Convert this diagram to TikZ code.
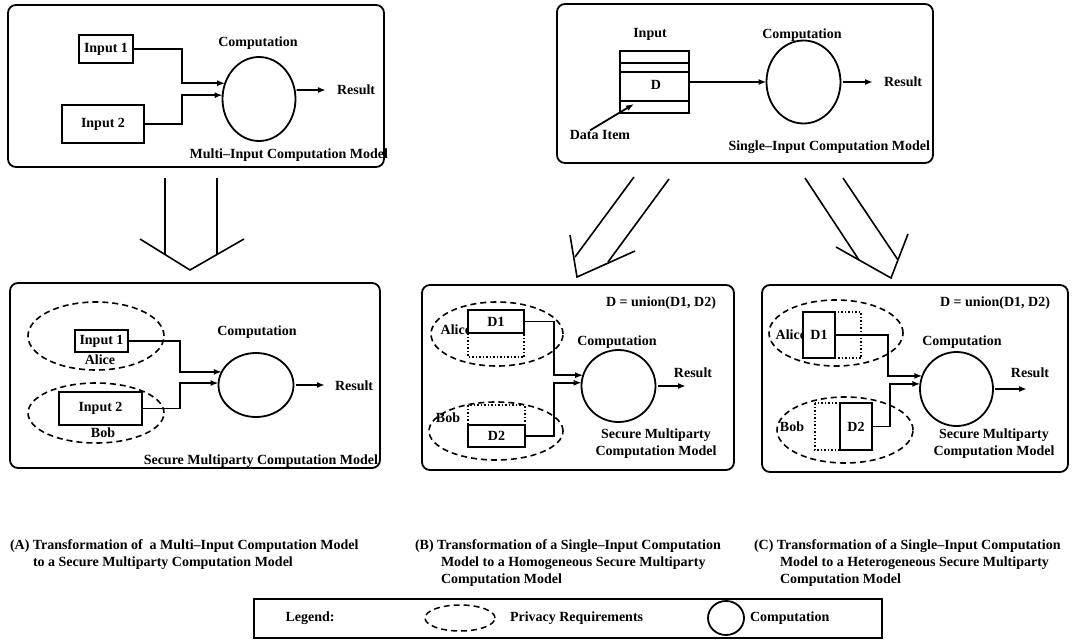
\documentclass[tikz,border=0pt]{standalone}
\usepackage{fontspec}
\setmainfont{Liberation Serif}
\usetikzlibrary{arrows.meta,shapes.geometric}
\begin{document}
\begin{tikzpicture}[x=1pt,y=-1pt,
  every node/.style={font=\bfseries\fontsize{14}{17}\selectfont, inner sep=0pt, outer sep=0pt},
  panel/.style={draw, line width=1.8pt, rounded corners=8pt},
  box/.style={draw, line width=1.8pt, rectangle, inner sep=0pt},
  comp/.style={draw, line width=1.8pt, ellipse, inner sep=0pt},
  priv/.style={draw, ellipse, line width=1.6pt, dash pattern=on 6pt off 4pt, inner sep=0pt},
  dots/.style={line width=1.5pt, dotted},
  conn/.style={line width=1.8pt, -{Latex[length=8pt,width=6pt]}},
  bigarrow/.style={line width=1.6pt}
]
\useasboundingbox (0,0) rectangle (1072,642);

% ---------- top A: multi-input ----------
\node[anchor=east] (titleA) at (388,155) {Multi–Input Computation Model};
\draw[panel] (8,5) rectangle (384,167);
\node[box, minimum width=54pt, minimum height=28pt] (in1A) at (106,49) {Input 1};
\node[box, minimum width=82pt, minimum height=38pt] (in2A) at (103,124) {Input 2};
\node[comp, minimum width=73pt, minimum height=84pt] (compA) at (259,99) {};
\node (compAl) at (258,43) {Computation};
\coordinate (resAe) at (326,90);
\node[anchor=west] (resA) at (337,90) {Result};
\draw[conn] (in1A.east) -- ++(49,0) |- (compA.155);
\draw[conn] (in2A.east) -- ++(38,0) |- (compA.174);
\draw[conn, shorten <=2pt] (compA.14) -- (resAe);

% ---------- top B: single-input ----------
\draw[panel] (557,4) rectangle (933,163);
\node[box, minimum width=69pt, minimum height=62pt] (stackB) at (654.5,82) {};
\draw[line width=1.8pt] (620,63) -- (689,63);
\draw[line width=1.8pt] (620,72) -- (689,72);
\draw[line width=1.8pt] (620,101) -- (689,101);
\node (dB) at (656,85) {D};
\node (inpB) at (650,34) {Input};
\node[comp, minimum width=74pt, minimum height=83pt] (compB) at (803.5,82) {};
\node (compBl) at (802,35) {Computation};
\draw[conn] (stackB) -- (compB);
\coordinate (resBe) at (873,82);
\node[anchor=west] (resB) at (884,82) {Result};
\draw[conn, shorten <=2pt] (compB) -- (resBe);
\node (dataB) at (600,135) {Data Item};
\coordinate (dtip) at (634,104);
\draw[conn] ([xshift=-10pt]dataB.north) -- (dtip);
\node[anchor=east] (titleB) at (930,147) {Single–Input Computation Model};

% ---------- transformation arrows ----------
\draw[bigarrow] (165,178) -- (165,254.5);
\draw[bigarrow] (217,178) -- (217,254.5);
\draw[bigarrow] (140,239) -- (190,270) -- (244,239);
\draw[bigarrow] (634,177) -- (575,257);
\draw[bigarrow] (669,179) -- (608,262);
\draw[bigarrow] (570,235) -- (577,277) -- (635,251);
\draw[bigarrow] (805,178) -- (859,260);
\draw[bigarrow] (843,178) -- (898,260);
\draw[bigarrow] (836,247) -- (891,278) -- (908,234);

% ---------- lower A ----------
\draw[panel] (10,283) rectangle (380,468);
\node[priv, minimum width=136pt, minimum height=68pt] (aliceA) at (96,336) {};
\node[priv, minimum width=136pt, minimum height=60pt] (bobA) at (96,413) {};
\node[box, minimum width=53pt, minimum height=22pt] (in1L) at (101.5,341) {Input 1};
\node (aliceAl) at (100,360) {Alice};
\node[box, minimum width=83pt, minimum height=33pt] (in2L) at (100.5,408.5) {Input 2};
\node (bobAl) at (103,433) {Bob};
\node[comp, minimum width=75pt, minimum height=64pt] (compAL) at (256,385) {};
\draw[conn] (in1L.east) -- ++(52,0) |- (compAL.159);
\draw[conn] (in2L.east) -- ++(38,0) |- (compAL.177);
\node (compALl) at (257,332) {Computation};
\coordinate (resALe) at (325,385);
\node[anchor=west] (resAL) at (335,386) {Result};
\draw[conn, shorten <=2pt] (compAL) -- (resALe);
\node[anchor=east] (titleAL) at (378,461) {Secure Multiparty Computation Model};

% ---------- lower B ----------
\draw[panel] (422,285) rectangle (734,470);
\node[anchor=east] (unionB) at (716,303) {D = union(D1, D2)};
\node[priv, minimum width=132pt, minimum height=64pt] (aliceB) at (497,334) {};
\node[priv, minimum width=134pt, minimum height=58pt] (bobB) at (496,431) {};
\node[anchor=east] (aliceBl) at (471,330) {Alice};
\node[box, fill=white, minimum width=56pt, minimum height=23pt] (d1B) at (496,321.5) {D1};
\draw[dots] (468,333) rectangle (524,357);
\node (bobBl) at (448,418) {Bob};
\node[box, fill=white, minimum width=57pt, minimum height=22pt] (d2B) at (496.5,436) {D2};
\draw[dots] (468,405) rectangle (525,425);
\node[comp, minimum width=74pt, minimum height=72pt] (compBL) at (618.5,386) {};
\draw[conn] (d1B.east) -- ++(30,0) |- (compBL.163);
\draw[conn] (d2B.east) -- ++(29,0) |- (compBL.175);
\node (compBLl) at (617,342) {Computation};
\coordinate (resBLe) at (686,386);
\draw[conn, shorten <=2pt] (compBL) -- (resBLe);
\node (resBL) at (693,373) {Result};
\node[align=center] (titleBL) at (656,444) {Secure Multiparty\\Computation Model};

% ---------- lower C ----------
\draw[panel] (762,285) rectangle (1068,472);
\node[anchor=east] (unionC) at (1050,303) {D = union(D1, D2)};
\node[priv, minimum width=134pt, minimum height=66pt] (aliceC) at (836,333) {};
\node[priv, minimum width=136pt, minimum height=66pt] (bobC) at (845,430) {};
\node[anchor=east] (aliceCl) at (806,335) {Alice};
\node[box, fill=white, minimum width=32pt, minimum height=46pt] (d1C) at (819,335) {D1};
\draw[dots] (835,312) rectangle (861,358);
\node (bobCl) at (792,427) {Bob};
\node[box, fill=white, minimum width=32pt, minimum height=47pt] (d2C) at (856,426.5) {D2};
\draw[dots] (815,403) rectangle (840,450);
\node[comp, minimum width=73pt, minimum height=74pt] (compCL) at (956.5,389) {};
\draw[conn] (d1C.east) -- ++(53,0) |- (compCL.159);
\draw[conn] (d2C.east) -- ++(18,0) |- (compCL.172);
\node (compCLl) at (962,342) {Computation};
\coordinate (resCLe) at (1027,389);
\draw[conn, shorten <=2pt] (compCL) -- (resCLe);
\node (resCL) at (1030,373) {Result};
\node[align=center] (titleCL) at (994,444) {Secure Multiparty\\Computation Model};

% ---------- captions ----------
\node[anchor=west] (capA1) at (10,546) {(A) Transformation of\ \ a Multi–Input Computation Model};
\node[anchor=west] (capA2) at (33,563) {to a Secure Multiparty Computation Model};
\node[anchor=west] (capB1) at (415,546) {(B) Transformation of a Single–Input Computation};
\node[anchor=west] (capB2) at (441,563) {Model to a Homogeneous Secure Multiparty};
\node[anchor=west] (capB3) at (441,580) {Computation Model};
\node[anchor=west] (capC1) at (754,546) {(C) Transformation of a Single–Input Computation};
\node[anchor=west] (capC2) at (780,563) {Model to a Heterogeneous Secure Multiparty};
\node[anchor=west] (capC3) at (780,580) {Computation Model};

% ---------- legend ----------
\draw[line width=1.5pt] (254,599) rectangle (882,638);
\node (legL) at (310,618) {Legend:};
\node[priv, line width=1.5pt, minimum width=70pt, minimum height=26pt] (legE) at (460,618) {};
\node[anchor=west] (legP) at (510,618) {Privacy Requirements};
\node[comp, minimum width=36pt, minimum height=34pt] (legC) at (726,618) {};
\node[anchor=west] (legCt) at (750,618) {Computation};
\end{tikzpicture}
\end{document}
